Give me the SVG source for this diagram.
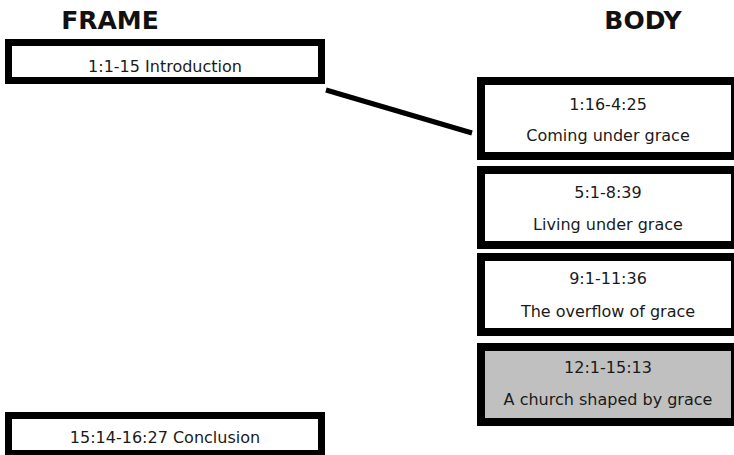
<svg xmlns="http://www.w3.org/2000/svg" width="734" height="455" viewBox="0 0 734 455">
<style>
.title{font-family:"DejaVu Sans","Liberation Sans",sans-serif;font-weight:bold;font-size:25px;fill:#111;text-anchor:middle}
.frame{fill:#fff;stroke:#000;stroke-width:7}
.body{fill:#fff;stroke:#000;stroke-width:8}
.shade{fill:#c0c0c0}
.t{font-family:"DejaVu Sans","Liberation Sans",sans-serif;font-size:16px;fill:#1a1a1a;text-anchor:middle}
.conn{stroke:#000;stroke-width:5;fill:none}
</style>
<rect width="734" height="455" fill="#fff"/>
<text class="title" x="110" y="29">FRAME</text>
<text class="title" x="643" y="29">BODY</text>
<g id="connectors">
<line class="conn" x1="326" y1="90" x2="472" y2="133"/>
</g>
<g id="intro">
<rect class="frame" x="8.5" y="42.5" width="313" height="38"/>
<text class="t" x="165" y="72">1:1-15 Introduction</text>
</g>
<g id="body1">
<rect class="body" x="481" y="81" width="254" height="75"/>
<text class="t" x="608" y="110">1:16-4:25</text>
<text class="t" x="608" y="141">Coming under grace</text>
</g>
<g id="body2">
<rect class="body" x="481" y="170" width="254" height="75"/>
<text class="t" x="608" y="198">5:1-8:39</text>
<text class="t" x="608" y="230">Living under grace</text>
</g>
<g id="body3">
<rect class="body" x="481" y="257" width="254" height="75"/>
<text class="t" x="608" y="284">9:1-11:36</text>
<text class="t" x="608" y="317">The overflow of grace</text>
</g>
<g id="body4">
<rect class="body shade" x="481" y="347" width="254" height="75"/>
<text class="t" x="608" y="373">12:1-15:13</text>
<text class="t" x="608" y="405">A church shaped by grace</text>
</g>
<g id="conclusion">
<rect class="frame" x="8.5" y="415.5" width="313" height="38"/>
<text class="t" x="165" y="443">15:14-16:27 Conclusion</text>
</g>
</svg>
